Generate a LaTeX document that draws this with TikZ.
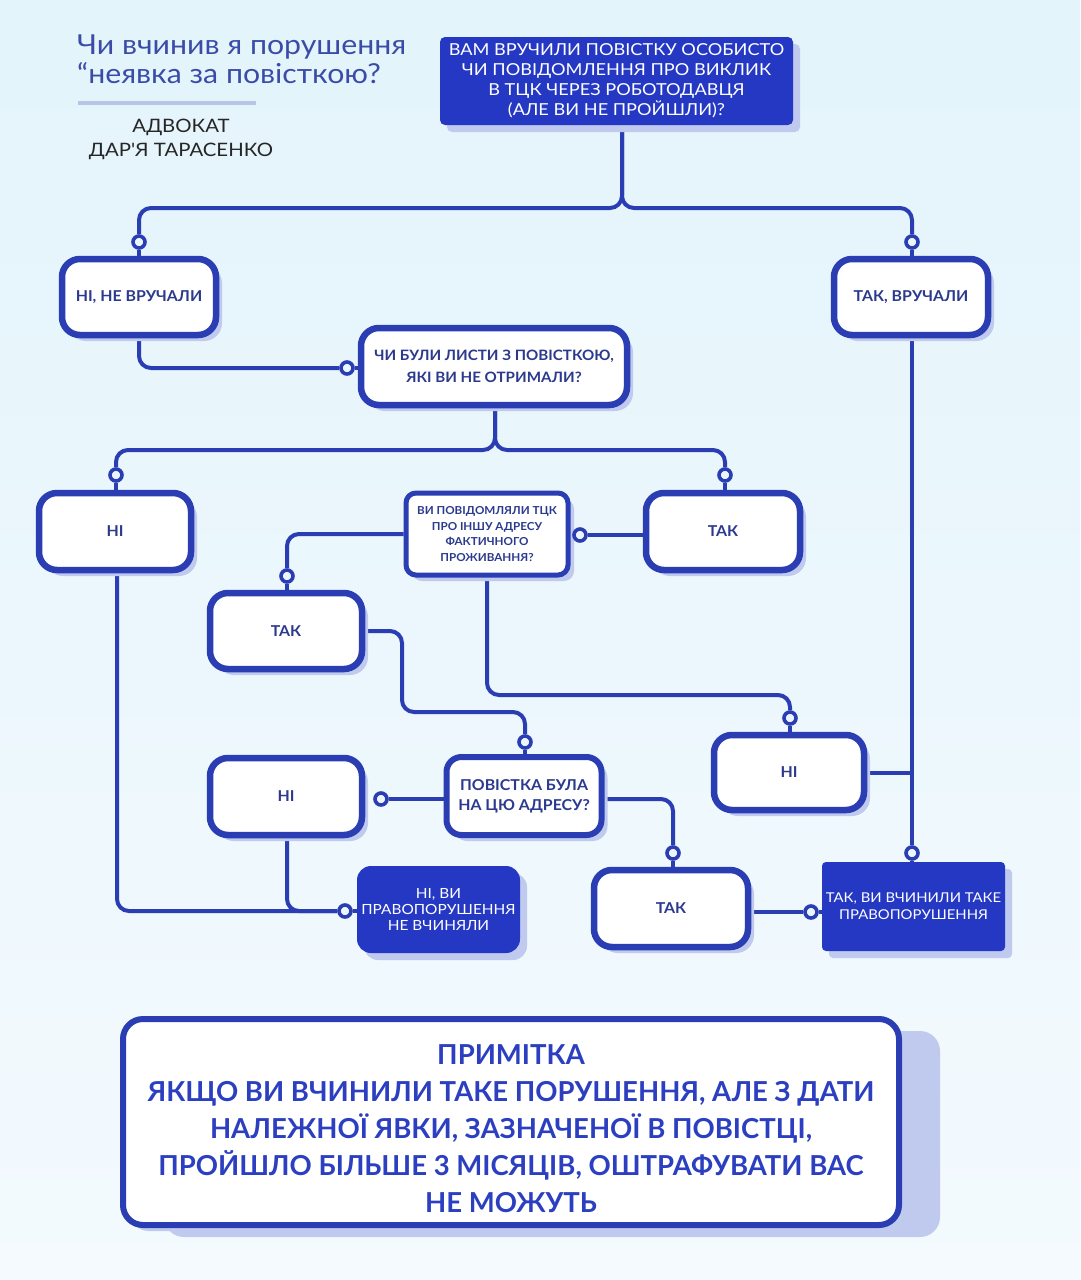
\documentclass[tikz,border=0pt]{standalone}
\usepackage{fontspec}
\setmainfont{Lato}
\newfontfamily\reg{Lato}[FakeStretch=1.1]
\newfontfamily\bld{Lato}[FakeStretch=1.06]
\newfontfamily\bldn{Lato}
\usetikzlibrary{shadows,calc}
\definecolor{bgtop}{HTML}{E3F4FB}
\definecolor{bgbot}{HTML}{F4FAFE}
\definecolor{lineblue}{HTML}{2A3DB3}
\definecolor{darkfill}{HTML}{2438C4}
\definecolor{shadowc}{HTML}{BFCAEE}
\definecolor{navy}{HTML}{2C3A8E}
\definecolor{notetext}{HTML}{2B3FC0}
\definecolor{titlec}{HTML}{3A4CA8}
\definecolor{sepc}{HTML}{BAC4E6}
\definecolor{dotfill}{HTML}{EAF6FC}
\pgfdeclarelayer{bglayer}
\pgfdeclarelayer{lines}
\pgfsetlayers{bglayer,lines,main}
\begin{document}
\begin{tikzpicture}[x=1pt,y=-1pt,
  wbox/.style={draw=lineblue, line width=6.5pt, fill=white, rounded corners=18pt,
    inner sep=0pt, align=center, text=navy,
    font=\bld\bfseries\fontsize{15}{22}\selectfont,
    general shadow={fill=shadowc, shadow xshift=6pt, shadow yshift=-6pt}},
  qbox/.style={wbox, line width=5pt, rounded corners=10pt,
    font=\bld\bfseries\fontsize{11}{15.7}\selectfont},
  darkbox/.style={fill=darkfill, text=white, inner sep=0pt, align=center,
    font=\reg\fontsize{13.5}{17}\selectfont,
    general shadow={fill=shadowc, shadow xshift=7pt, shadow yshift=-7pt}},
  conn/.style={draw=lineblue, line width=4pt, rounded corners=12pt},
  dot/.style={circle, draw=lineblue, line width=3.6pt, fill=dotfill,
    minimum size=12pt, inner sep=0pt}]

\useasboundingbox (0,0) rectangle (1080,1280);
\begin{pgfonlayer}{bglayer}
  \shade[top color=bgtop, bottom color=bgbot] (0,0) rectangle (1080,1280);
\end{pgfonlayer}

% title
\node[anchor=west, text=titlec, align=left, inner sep=0pt,
  font=\reg\fontsize{27.5}{29}\selectfont] (title) at (77,59)
  {Чи вчинив я порушення\\“неявка за повісткою?};
\draw[sepc, line width=4pt] (78,103) -- (256,103);
\node[text=black!85, align=center, inner sep=0pt,
  font=\reg\fontsize{18.5}{24}\selectfont] (author) at (181,139)
  {АДВОКАТ\\ДАР'Я ТАРАСЕНКО};

% boxes
\node[darkbox, rounded corners=5pt, minimum width=353pt, minimum height=88pt,
  font=\reg\fontsize{16.5}{20}\selectfont] (top) at (616.5,81)
  {ВАМ ВРУЧИЛИ ПОВІСТКУ ОСОБИСТО\\ЧИ ПОВІДОМЛЕННЯ ПРО ВИКЛИК\\В ТЦК ЧЕРЕЗ РОБОТОДАВЦЯ\\(АЛЕ ВИ НЕ ПРОЙШЛИ)?};
\node[wbox, minimum width=154pt, minimum height=76pt] (n1) at (139,297) {НІ, НЕ ВРУЧАЛИ};
\node[wbox, minimum width=154pt, minimum height=76pt] (n2) at (911,297) {ТАК, ВРУЧАЛИ};
\node[wbox, minimum width=266pt, minimum height=77pt,
  font=\bld\bfseries\fontsize{14.3}{22}\selectfont] (q1) at (494,366.5)
  {ЧИ БУЛИ ЛИСТИ З ПОВІСТКОЮ,\\ЯКІ ВИ НЕ ОТРИМАЛИ?};
\node[wbox, minimum width=152pt, minimum height=77pt] (n3) at (115,531.5) {НІ};
\node[wbox, minimum width=154pt, minimum height=77pt] (n4) at (723,531.5) {ТАК};
\node[qbox, minimum width=162pt, minimum height=82pt] (q2) at (487,534)
  {ВИ ПОВІДОМЛЯЛИ ТЦК\\ПРО ІНШУ АДРЕСУ\\ФАКТИЧНОГО\\ПРОЖИВАННЯ?};
\node[wbox, minimum width=152pt, minimum height=76pt] (n5) at (286,631) {ТАК};
\node[wbox, minimum width=150pt, minimum height=75pt] (n6) at (789,772.5) {НІ};
\node[wbox, line width=6pt, rounded corners=15pt, minimum width=155pt, minimum height=78pt,
  font=\bld\bfseries\fontsize{15}{20}\selectfont] (q3) at (524,796)
  {ПОВІСТКА БУЛА\\НА ЦЮ АДРЕСУ?};
\node[wbox, minimum width=152pt, minimum height=77pt] (n7) at (286,796.5) {НІ};
\node[wbox, minimum width=154pt, minimum height=77pt] (n8) at (671,908.5) {ТАК};
\node[darkbox, rounded corners=14pt, minimum width=163pt, minimum height=87pt,
  font=\reg\fontsize{14}{16}\selectfont] (r1) at (438.5,909.5)
  {НІ, ВИ\\ПРАВОПОРУШЕННЯ\\НЕ ВЧИНЯЛИ};
\node[darkbox, rounded corners=4pt, minimum width=183pt, minimum height=89pt] (r2) at (913.5,906.5)
  {ТАК, ВИ ВЧИНИЛИ ТАКЕ\\ПРАВОПОРУШЕННЯ};
\node[wbox, line width=6pt, rounded corners=20pt, minimum width=776pt, minimum height=206pt,
  text=notetext, font=\bldn\bfseries\fontsize{27.5}{37}\selectfont,
  general shadow={fill=shadowc, shadow xshift=41pt, shadow yshift=-12pt}] (note) at (511,1122)
  {\rule{0pt}{34pt}ПРИМІТКА\\ЯКЩО ВИ ВЧИНИЛИ ТАКЕ ПОРУШЕННЯ, АЛЕ З ДАТИ\\НАЛЕЖНОЇ ЯВКИ, ЗАЗНАЧЕНОЇ В ПОВІСТЦІ,\\ПРОЙШЛО БІЛЬШЕ 3 МІСЯЦІВ, ОШТРАФУВАТИ ВАС\\НЕ МОЖУТЬ};

% dots
\node[dot] (d1) at (139,242) {};
\node[dot] (d2) at (912,242) {};
\node[dot] (d3) at (347,368) {};
\node[dot] (d4) at (116,475) {};
\node[dot] (d5) at (725,475) {};
\node[dot] (d6) at (580,535) {};
\node[dot] (d7) at (287,576) {};
\node[dot] (d8) at (790,718) {};
\node[dot] (d9) at (525,742) {};
\node[dot] (d10) at (381,799) {};
\node[dot] (d11) at (673,853) {};
\node[dot] (d12) at (912,853) {};
\node[dot] (d13) at (811,912) {};
\node[dot] (d14) at (345,911) {};

\coordinate (s1) at (622,208);
\coordinate (s2) at (495,450);
\coordinate (c7) at (487,695);
\coordinate (k1) at (402,712);
\coordinate (k2) at (673,799);
\coordinate (k3) at (117,911);
\coordinate (k4) at (287,911);

\begin{pgfonlayer}{lines}
  \draw[conn] (top.south -| s1) -- (s1) -- (s1 -| d1) -- (d1);
  \draw[conn] (top.south -| s1) -- (s1) -- (s1 -| d2) -- (d2);
  \draw[conn] (d1) -- (d1 |- n1.north);
  \draw[conn] (d2) -- (d2 |- n2.north);
  \draw[conn] (n1.south) -- (n1.south |- d3) -- (d3);
  \draw[conn] (d3) -- (d3 -| q1.west);
  \draw[conn] (q1.south -| s2) -- (s2) -- (s2 -| d4) -- (d4);
  \draw[conn] (q1.south -| s2) -- (s2) -- (s2 -| d5) -- (d5);
  \draw[conn] (d4) -- (d4 |- n3.north);
  \draw[conn] (d5) -- (d5 |- n4.north);
  \draw[conn] (d6) -- (d6 -| n4.west);
  \draw[conn] (d6) -- (d6 -| q2.east);
  \draw[conn] (q2.west) -- (q2.west -| d7) -- (d7);
  \draw[conn] (d7) -- (d7 |- n5.north);
  \draw[conn] (q2.south -| c7) -- (c7) -- (c7 -| d8) -- (d8);
  \draw[conn] (d8) -- (d8 |- n6.north);
  \draw[conn] (n5.east) -- (n5.east -| k1) -- (k1) -- (k1 -| d9) -- (d9);
  \draw[conn] (d9) -- (d9 |- q3.north);
  \draw[conn] (d10) -- (d10 -| q3.west);
  \draw[conn] (q3.east |- k2) -- (k2) -- (d11);
  \draw[conn] (d11) -- (d11 |- n8.north);
  \draw[conn] (d13) -- (d13 -| n8.east);
  \draw[conn] (d13) -- (d13 -| r2.west);
  \draw[conn] (n2.south -| d12) -- (d12);
  \draw[conn] (d12) -- (d12 |- r2.north);
  \draw[conn] (n6.east) -- (n6.east -| d12);
  \draw[conn] (n3.south -| k3) -- (k3) -- (d14);
  \draw[conn] (n7.south -| k4) -- (k4) -- (d14);
  \draw[conn] (d14) -- (d14 -| r1.west);
\end{pgfonlayer}
\end{tikzpicture}
\end{document}
